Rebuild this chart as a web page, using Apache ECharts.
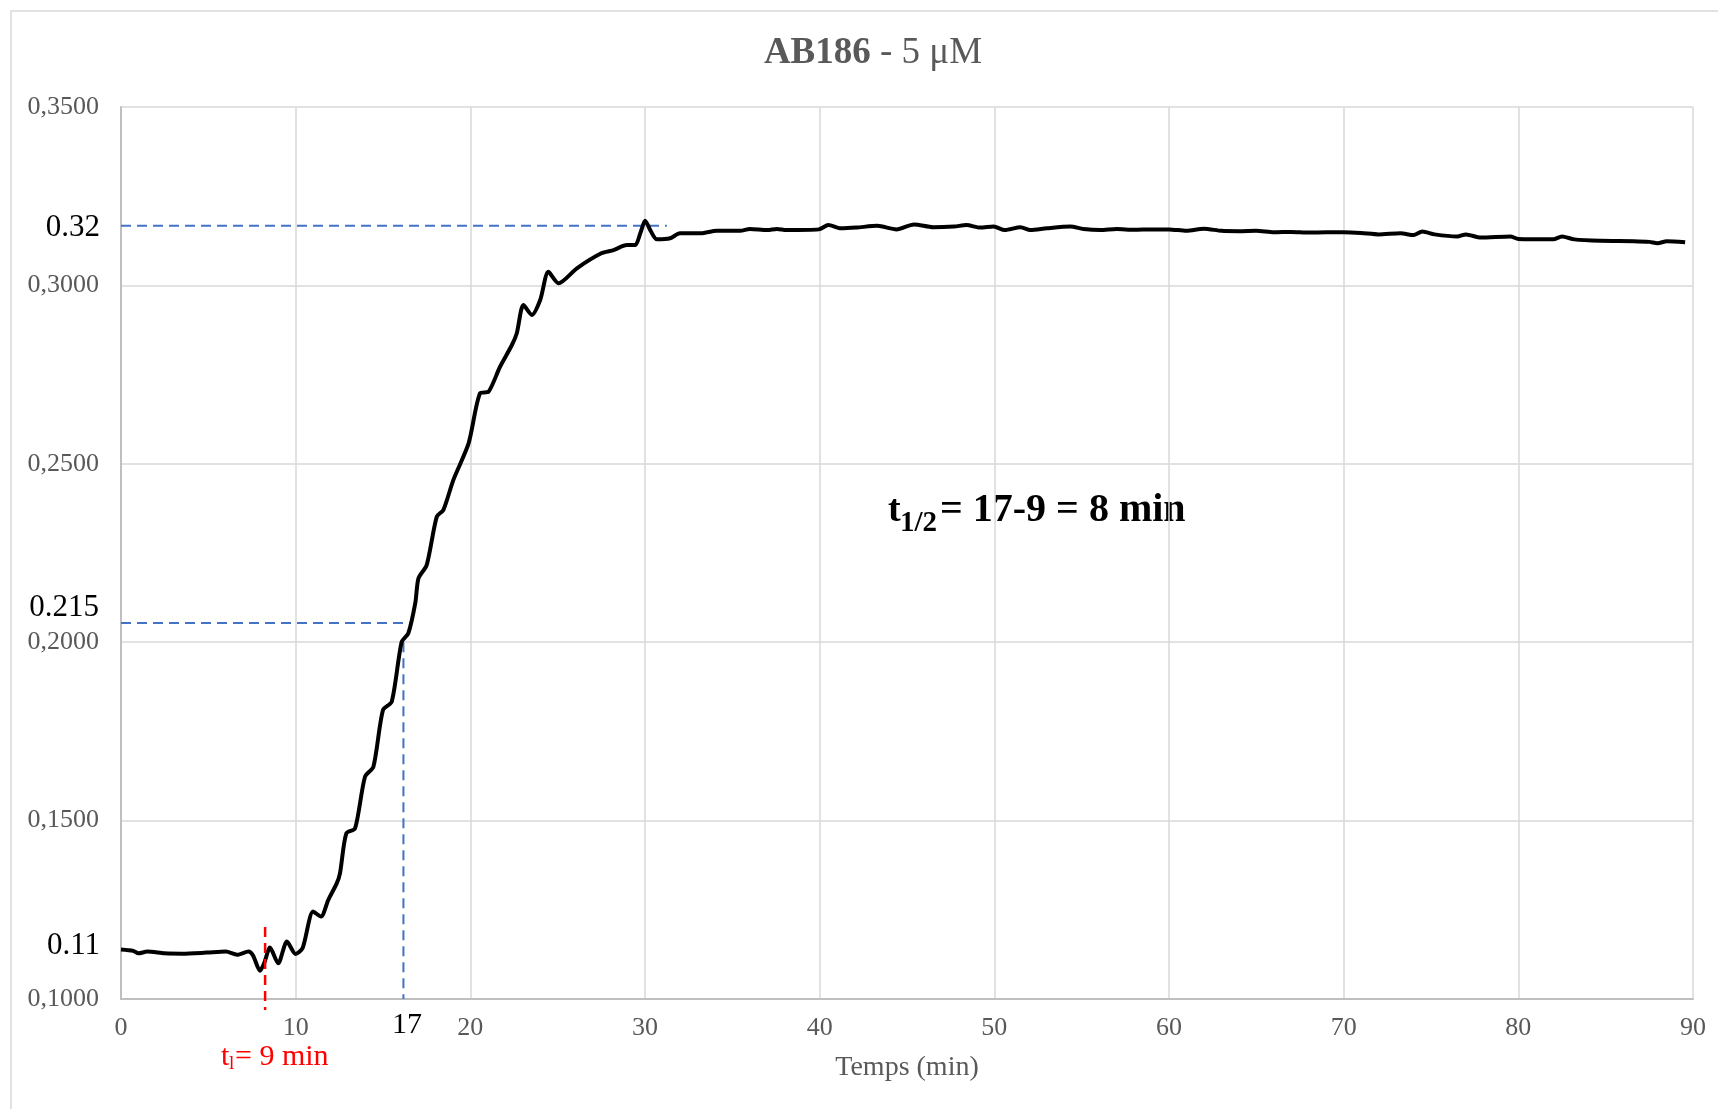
<!DOCTYPE html>
<html>
<head>
<meta charset="utf-8">
<script src="https://cdn.jsdelivr.net/npm/echarts@6/dist/echarts.min.js"></script>
<style>
  html, body { margin: 0; padding: 0; background: #fff; }
  #main { width: 1718px; height: 1109px; }
</style>
</head>
<body>
<div id="main"></div>
<script>
// temps (min)
var temps = [0, 0.7, 1.0, 1.5, 2.5, 3.5, 4.9, 6.0, 6.65, 7.3, 7.56, 7.96, 8.2, 8.53, 9.0, 9.5, 10.0, 10.4,
  11.0, 11.45, 11.87, 12.35, 12.54, 12.9, 13.4, 13.97, 14.45, 15.0, 15.5, 16.07, 16.45, 16.85, 17.03, 17.5,
  18.08, 18.46, 19.03, 19.9, 20.56, 21.04, 21.7, 22.38, 22.66, 23.04, 23.52, 24.0, 24.47, 25.05, 26.1,
  27.5, 28.2, 28.96, 29.44, 29.73, 30.01, 30.3, 30.68, 31.44, 32.0, 33.2, 34.1, 35.45, 36.0, 37.0, 37.55,
  38.1, 39.95, 40.5, 41.2, 42.1, 43.3, 44.4, 45.4, 46.5, 47.7, 48.4, 49.2, 49.96, 50.6, 51.5, 52.06, 53.0,
  54.35, 55.1, 56.07, 57, 58, 59, 60, 61, 62, 63, 64, 65, 66, 67, 68, 69, 70, 71, 72, 73.25, 74.0, 74.5,
  75.2, 76.5, 77.0, 77.85, 79.55, 80.0, 82.0, 82.5, 83.2, 84.7, 86.6, 87.5, 87.97, 88.5, 89.55];
// absorbance
var absorb = [0.1139, 0.1135, 0.1128, 0.1133, 0.1128, 0.1127, 0.1130, 0.1133, 0.1124, 0.1133, 0.1122, 0.1079,
  0.1101, 0.1144, 0.1100, 0.1161, 0.1126, 0.1143,
  0.1245, 0.1231, 0.1278, 0.1324, 0.1353, 0.1464, 0.1478, 0.1623, 0.1651, 0.1810, 0.1833, 0.2001, 0.2025,
  0.2110, 0.2179, 0.2216,
  0.2352, 0.2371, 0.2455, 0.2557, 0.2698, 0.2702, 0.2772, 0.2833, 0.2866, 0.2945, 0.2917, 0.2959, 0.3038,
  0.3006, 0.3048,
  0.3090, 0.3099, 0.3113, 0.3113, 0.3146, 0.3181, 0.3155, 0.3129, 0.3132, 0.3146, 0.3146, 0.3153, 0.3153,
  0.3158, 0.3155, 0.3158,
  0.3155, 0.3157, 0.3169, 0.3160, 0.3162, 0.3167, 0.3157, 0.3171, 0.3163, 0.3165, 0.3169, 0.3162, 0.3165,
  0.3155, 0.3163, 0.3155, 0.3160,
  0.3165, 0.3158, 0.3155, 0.3158, 0.3156, 0.3157, 0.3157, 0.3153, 0.3159, 0.3153, 0.3152, 0.3153, 0.3149,
  0.3150, 0.3148, 0.3149, 0.3149, 0.3147, 0.3143, 0.3146, 0.3141, 0.3151,
  0.3143, 0.3137, 0.3143, 0.3134, 0.3137, 0.3130, 0.3129, 0.3137, 0.3129, 0.3125, 0.3124, 0.3122, 0.3118,
  0.3124, 0.3121];

// repères (lignes pointillées)
var plateauLine = [[0, 0.3167], [31.25, 0.3167]];
var halfLine = [[0, 0.2054], [16.55, 0.2054]];
var halfDrop = [[16.17, 0.2], [16.17, 0.1]];
var lagLine = [[8.25, 0.1202], [8.25, 0.0969]];

var xTicks = { min: 0, max: 90, step: 10 };
var yTicks = { min: 0.1, max: 0.35, step: 0.05 };

var chart = echarts.init(document.getElementById('main'));

var serif = 'Liberation Serif';
var curve = temps.map(function (t, i) { return [t, absorb[i]]; });

function dashed(data, color, width, clip) {
  return {
    type: 'line',
    data: data,
    symbol: 'none',
    silent: true,
    clip: clip,
    lineStyle: { color: color, width: width, type: [10, 6] },
    z: 3
  };
}

var option = {
  animation: false,
  backgroundColor: '#fff',
  grid: { left: 121, right: 25, top: 107, bottom: 110 },
  xAxis: {
    type: 'value',
    min: xTicks.min,
    max: xTicks.max,
    interval: xTicks.step,
    name: 'Temps (min)',
    nameLocation: 'middle',
    nameGap: 55,
    nameTextStyle: { fontFamily: serif, fontSize: 28, color: '#595959' },
    axisLine: { lineStyle: { color: '#BFBFBF', width: 2 } },
    axisTick: { show: false },
    axisLabel: { fontFamily: serif, fontSize: 26, color: '#595959', margin: 16 },
    splitLine: { show: true, lineStyle: { color: '#D9D9D9', width: 1.5 } }
  },
  yAxis: {
    type: 'value',
    min: yTicks.min,
    max: yTicks.max,
    interval: yTicks.step,
    axisLine: { show: true, lineStyle: { color: '#BFBFBF', width: 2 } },
    axisTick: { show: false },
    axisLabel: {
      fontFamily: serif, fontSize: 26, color: '#595959', margin: 22,
      formatter: function (v) { return v.toFixed(4).replace('.', ','); }
    },
    splitLine: { lineStyle: { color: '#D9D9D9', width: 1.5 } }
  },
  series: [
    dashed(plateauLine, '#4472C4', 2, true),
    dashed(halfLine, '#4472C4', 2, true),
    dashed(halfDrop, '#4472C4', 2, true),
    {
      type: 'line',
      data: curve,
      symbol: 'none',
      smooth: 0.25,
      lineStyle: { color: '#000', width: 4 },
      z: 4
    },
    Object.assign(dashed(lagLine, '#FF0000', 2.5, false), { z: 5 })
  ],
  graphic: [
    {
      type: 'rect', z: -1, silent: true,
      shape: { x: 11, y: 11, width: 1720, height: 1110 },
      style: { fill: 'none', stroke: '#D9D9D9', lineWidth: 1.5 }
    },
    {
      type: 'text', x: 873, y: 53,
      style: {
        text: '{b|AB186}{n| - 5 μM}',
        align: 'center', verticalAlign: 'middle',
        rich: {
          b: { fontFamily: serif, fontSize: 37, fontWeight: 'bold', fill: '#595959' },
          n: { fontFamily: serif, fontSize: 37, fill: '#595959' }
        }
      }
    },
    // valeurs repères sur l'axe
    { type: 'text', x: 100, y: 228, style: { text: '0.32', font: '31px "Liberation Serif"', fill: '#000', align: 'right', verticalAlign: 'middle' } },
    { type: 'text', x: 99, y: 608, style: { text: '0.215', font: '31px "Liberation Serif"', fill: '#000', align: 'right', verticalAlign: 'middle' } },
    { type: 'text', x: 100, y: 946, style: { text: '0.11', font: '31px "Liberation Serif"', fill: '#000', align: 'right', verticalAlign: 'middle' } },
    { type: 'text', x: 407, y: 1025, style: { text: '17', font: '30px "Liberation Serif"', fill: '#000', align: 'center', verticalAlign: 'middle' } },
    // temps de latence
    { type: 'text', x: 221, y: 1057, style: { text: 't', font: '30px "Liberation Serif"', fill: '#FF0000', align: 'left', verticalAlign: 'middle' } },
    { type: 'text', x: 229, y: 1064, style: { text: 'l', font: '19px "Liberation Serif"', fill: '#FF0000', align: 'left', verticalAlign: 'middle' } },
    { type: 'text', x: 235, y: 1057, style: { text: '= 9 min', font: '30px "Liberation Serif"', fill: '#FF0000', align: 'left', verticalAlign: 'middle' } },
    // t1/2
    { type: 'text', x: 888, y: 511, style: { text: 't', font: 'bold 38px "Liberation Serif"', fill: '#000', align: 'left', verticalAlign: 'middle' } },
    { type: 'text', x: 900, y: 524, style: { text: '1/2', font: 'bold 29px "Liberation Serif"', fill: '#000', align: 'left', verticalAlign: 'middle' } },
    { type: 'text', x: 940, y: 511, style: { text: '= 17-9 = 8 min', font: 'bold 40px "Liberation Serif"', fill: '#000', align: 'left', verticalAlign: 'middle' } }
  ]
};

chart.setOption(option);
</script>
</body>
</html>
